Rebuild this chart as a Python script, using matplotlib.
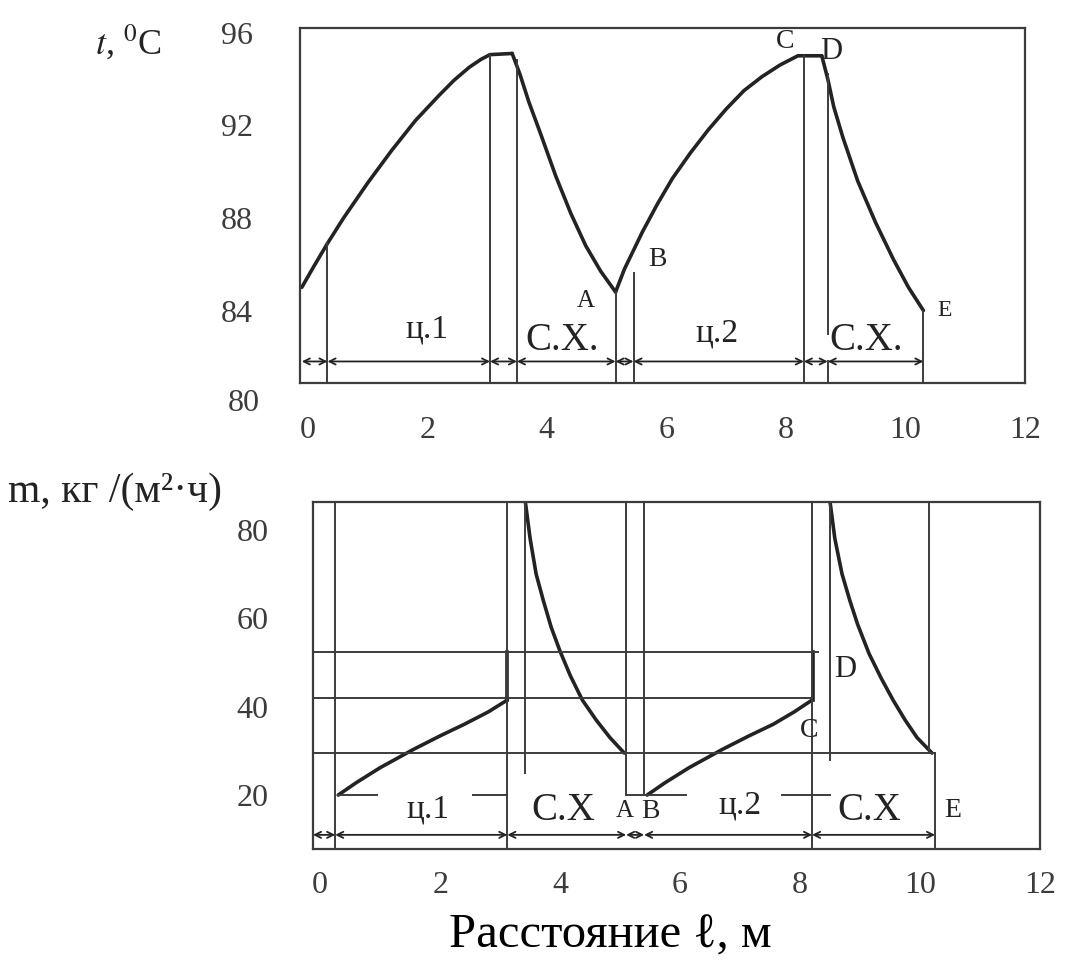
import matplotlib
matplotlib.use("Agg")
from matplotlib import pyplot as plt

plt.rcParams['font.family'] = ['Liberation Serif', 'DejaVu Serif']
plt.rcParams['mathtext.fontset'] = 'stix'

INK = '#232323'
GREY = '#3c3c3c'

# ---- top chart: temperature t, C vs distance, m ----
heat1_x = [-0.1, 0.1, 0.33, 0.6, 1.0, 1.4, 1.8, 2.2, 2.45, 2.7, 2.9, 3.05, 3.42]
heat1_t = [85.0, 85.9, 86.9, 88.0, 89.5, 90.9, 92.2, 93.3, 93.95, 94.5, 94.85, 95.05, 95.1]
cool1_x = [3.42, 3.55, 3.7, 3.9, 4.15, 4.4, 4.65, 4.9, 5.15]
cool1_t = [95.1, 94.2, 93.0, 91.6, 89.8, 88.2, 86.8, 85.7, 84.8]
heat2_x = [5.15, 5.3, 5.45, 5.6, 5.85, 6.1, 6.4, 6.7, 7.0, 7.3, 7.6, 7.9, 8.2, 8.6]
heat2_t = [84.8, 85.8, 86.6, 87.4, 88.6, 89.7, 90.8, 91.8, 92.7, 93.5, 94.1, 94.6, 95.0, 95.0]
cool2_x = [8.6, 8.7, 8.8, 8.95, 9.2, 9.5, 9.8, 10.05, 10.3]
cool2_t = [95.0, 94.0, 92.8, 91.5, 89.6, 87.8, 86.2, 85.0, 84.0]

# vertical guide lines: x, from, to
top_vlines = [(0.33, 80.87, 86.9), (3.05, 80.87, 95.05), (3.5, 80.87, 94.8),
              (5.15, 80.87, 84.8), (5.45, 80.87, 85.6), (8.3, 80.87, 95.0),
              (8.7, 83.0, 94.2), (8.7, 80.87, 81.8), (10.3, 80.87, 84.0)]
top_dims = [-0.1, 0.33, 3.05, 3.5, 5.15, 5.45, 8.3, 8.7, 10.3]
top_dim_y = 81.8
top_yticks = [80, 84, 88, 92, 96]
xticks = [0, 2, 4, 6, 8, 10, 12]
top_labels = [('ц.1', 2.0, 83.2, 24), ('С.Х.', 4.25, 82.7, 28), ('ц.2', 6.85, 83.0, 24),
              ('С.Х.', 9.35, 82.7, 28), ('A', 4.65, 84.4, 18), ('B', 5.85, 86.2, 20),
              ('C', 7.98, 95.6, 20), ('D', 8.75, 95.2, 22), ('E', 10.65, 84.0, 17)]

# ---- bottom chart: drying rate m vs distance ----
b_heat1_x = [0.3, 0.6, 1.0, 1.55, 2.0, 2.4, 2.8, 3.12]
b_heat1_m = [20.0, 22.8, 26.2, 30.3, 33.4, 36.0, 38.8, 41.5]
b_cool1_x = [3.42, 3.5, 3.6, 3.72, 3.85, 4.0, 4.17, 4.37, 4.6, 4.83, 5.07]
b_cool1_m = [86.3, 78, 70, 64, 58, 52.5, 47, 41.5, 37, 33, 29.5]
b_heat2_x = [5.45, 5.75, 6.15, 6.7, 7.15, 7.55, 7.9, 8.2]
b_heat2_m = [20.0, 22.8, 26.2, 30.3, 33.4, 36.0, 38.8, 41.5]
b_cool2_x = [8.5, 8.58, 8.7, 8.83, 8.96, 9.15, 9.35, 9.55, 9.75, 9.95, 10.2]
b_cool2_m = [86.3, 78, 70, 64, 58.6, 52, 46.5, 41.5, 37, 33, 29.5]
b_steps = [(3.12, 41.5, 52.4), (8.22, 41.5, 52.4)]

b_vlines = [(0.25, 7.8, 86.3), (3.12, 7.8, 86.3), (3.42, 25.0, 86.3),
            (5.1, 20.0, 86.3), (5.4, 20.0, 86.3), (8.2, 7.8, 86.3),
            (8.5, 28.0, 86.3), (10.15, 29.5, 86.3), (10.25, 7.8, 29.5)]
b_hlines = [(52.4, -0.12, 8.3), (42.0, -0.12, 8.2), (29.5, -0.12, 10.25),
            (20.0, 0.3, 0.95), (20.0, 2.55, 3.12), (20.0, 5.1, 6.1), (20.0, 7.7, 8.5)]
b_dims = [-0.12, 0.25, 3.12, 5.1, 5.4, 8.2, 10.25]
b_dim_y = 11.0
b_yticks = [20, 40, 60, 80]
b_labels = [('ц.1', 1.8, 16.8, 24), ('С.Х', 4.05, 16.5, 28), ('A', 5.07, 16.3, 18),
            ('B', 5.5, 16.3, 20), ('ц.2', 7.0, 17.8, 24), ('С.Х', 9.15, 16.5, 28),
            ('E', 10.55, 16.5, 20), ('C', 8.15, 34.5, 20), ('D', 8.75, 48.5, 22)]


def dim_line(ax, marks, y):
    for a, b in zip(marks[:-1], marks[1:]):
        ax.annotate('', xy=(b, y), xytext=(a, y),
                    arrowprops=dict(arrowstyle='<->', color=INK, lw=1.3,
                                    shrinkA=0, shrinkB=0, mutation_scale=11))


fig = plt.figure(figsize=(10.73, 9.67), dpi=100)

# top
ax1 = fig.add_axes([300 / 1073, 1 - 383 / 967, 725 / 1073, 355 / 967])
for xs, ys in [(heat1_x, heat1_t), (cool1_x, cool1_t), (heat2_x, heat2_t), (cool2_x, cool2_t)]:
    ax1.plot(xs, ys, color=INK, lw=2.6, solid_capstyle='round', solid_joinstyle='round')
for x, y0, y1 in top_vlines:
    ax1.plot([x, x], [y0, y1], color=GREY, lw=1.4)
dim_line(ax1, top_dims, top_dim_y)
for s, x, y, fs in top_labels:
    ax1.text(x, y, s, fontsize=fs, color=INK, ha='center', va='center')
ax1.set_xlim(-0.13, 12.0)
ax1.set_ylim(80.87, 96.2)
ax1.set_xticks(xticks)
ax1.set_yticks(top_yticks[1:])
for v in top_yticks[:1]:
    # 80 sits just below the frame in the original
    ax1.text(-0.8, v, str(v), fontsize=23, color=GREY, ha='right', va='center', clip_on=False)
ax1.tick_params(length=0, labelsize=23, labelcolor=GREY)
ax1.tick_params(axis='y', pad=34)
ax1.tick_params(axis='x', pad=24)
for sp in ax1.spines.values():
    sp.set_color(GREY)
    sp.set_linewidth(1.6)

# bottom
ax2 = fig.add_axes([313 / 1073, 1 - 849 / 967, 727 / 1073, 347 / 967])
for xs, ys in [(b_heat1_x, b_heat1_m), (b_cool1_x, b_cool1_m), (b_heat2_x, b_heat2_m), (b_cool2_x, b_cool2_m)]:
    ax2.plot(xs, ys, color=INK, lw=2.6, solid_capstyle='round', solid_joinstyle='round')
for x, y0, y1 in b_steps:
    ax2.plot([x, x], [y0, y1], color=INK, lw=2.6)
for x, y0, y1 in b_vlines:
    ax2.plot([x, x], [y0, y1], color=GREY, lw=1.4)
for y, x0, x1 in b_hlines:
    ax2.plot([x0, x1], [y, y], color=GREY, lw=1.4)
dim_line(ax2, b_dims, b_dim_y)
for s, x, y, fs in b_labels:
    ax2.text(x, y, s, fontsize=fs, color=INK, ha='center', va='center')
ax2.set_xlim(-0.12, 11.84)
ax2.set_ylim(7.8, 86.3)
ax2.set_xticks(xticks)
ax2.set_yticks(b_yticks)
ax2.tick_params(length=0, labelsize=23, labelcolor=GREY)
ax2.tick_params(axis='y', pad=32)
ax2.tick_params(axis='x', pad=16)
for sp in ax2.spines.values():
    sp.set_color(GREY)
    sp.set_linewidth(1.6)

fig.text(128 / 1073, 1 - 42 / 967, r'$t$, $^{0}$C', fontsize=26, color=INK, ha='center', va='center')
fig.text(8 / 1073, 1 - 492 / 967, 'm, кг /(м²·ч)', fontsize=30, color=INK, ha='left', va='center')
fig.text(610 / 1073, 1 - 935 / 967, 'Расстояние ℓ, м', fontsize=35, color='black', ha='center', va='center')

fig.savefig('out.png', dpi=100, facecolor='white')
